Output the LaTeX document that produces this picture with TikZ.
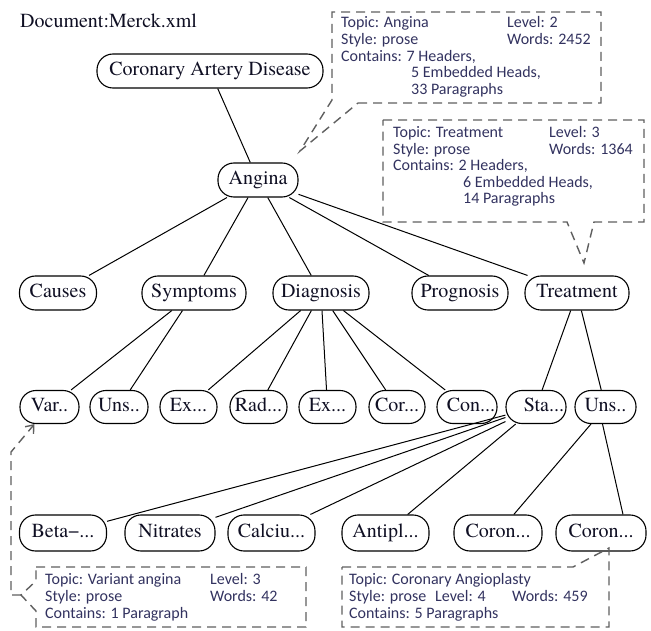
\documentclass[tikz,border=0pt]{standalone}
\usepackage{fontspec}
\newfontfamily\nodefont{texgyretermes}[Extension=.otf, UprightFont=*-regular]
\newfontfamily\notefont{Carlito}
\usetikzlibrary{arrows.meta}
\definecolor{inkc}{RGB}{15,15,35}
\definecolor{notec}{RGB}{50,50,95}
\definecolor{dashc}{RGB}{95,95,95}

\begin{document}
\begin{tikzpicture}[x=1pt,y=-1pt,
  topic/.style={draw=black, line width=1.1pt, rounded corners=16pt,
    minimum height=34pt, inner sep=0pt, text=inkc,
    text height=13.5pt, text depth=4.5pt,
    font=\nodefont\fontsize{20}{22}\selectfont},
  leaf/.style={topic, minimum height=33pt},
  link/.style={line width=1pt, draw=black},
  note/.style={draw=dashc, line width=1.4pt, dash pattern=on 9pt off 6pt},
  notetext/.style={anchor=base west, inner sep=0pt, text=notec,
    font=\notefont\fontsize{16}{17}\selectfont},
]
\useasboundingbox (0,0) rectangle (651,631);

% title
\node[anchor=base west, inner sep=0pt, text=inkc, font=\nodefont\fontsize{20}{22}\selectfont]
  (doctitle) at (20,28) {Document:Merck.xml};

% tree nodes
\node[topic, minimum width=226pt] (cad) at (210,71) {Coronary Artery Disease};
\node[topic, minimum width=80pt] (angina) at (258,180) {Angina};

\node[topic, minimum width=77pt]  (causes)    at (58,293)  {Causes};
\node[topic, minimum width=104pt] (symptoms)  at (194,293) {Symptoms};
\node[topic, minimum width=96pt]  (diagnosis) at (321,293) {Diagnosis};
\node[topic, minimum width=96pt]  (prognosis) at (460,293) {Prognosis};
\node[topic, minimum width=104pt] (treatment) at (577,293) {Treatment};

\node[leaf, minimum width=59pt] (var)  at (49.5,407)  {Var..};
\node[leaf, minimum width=58pt] (unsA) at (119,407)   {Uns..};
\node[leaf, minimum width=57pt] (exA)  at (188.5,407) {Ex...};
\node[leaf, minimum width=57pt] (rad)  at (258.5,407) {Rad...};
\node[leaf, minimum width=57pt] (exB)  at (327.5,407) {Ex...};
\node[leaf, minimum width=56pt] (cor)  at (397,407)   {Cor...};
\node[leaf, minimum width=60pt] (con)  at (467,407)   {\hspace*{8pt}Con...};
\node[leaf, minimum width=60pt] (sta)  at (536,407)   {\hspace*{16pt}Sta...};
\node[leaf, minimum width=61pt] (unsB) at (605.5,407) {Uns..};

\node[topic, minimum height=36pt, minimum width=87pt] (beta)     at (63,533)    {Beta−...};
\node[topic, minimum height=36pt, minimum width=90pt] (nitrates) at (170,533)   {Nitrates};
\node[topic, minimum height=36pt, minimum width=87pt] (calcium)  at (271.5,533) {Calciu...};
\node[topic, minimum height=36pt, minimum width=87pt] (antipl)   at (385.5,533) {Antipl...};
\node[topic, minimum height=36pt, minimum width=88pt] (coronA)   at (498,533)   {Coron...};
\node[topic, minimum height=36pt, minimum width=90pt] (coronB)   at (601,533)   {Coron...};

% tree edges
\draw[link] (cad) -- (angina);
\foreach \c in {causes,symptoms,diagnosis,prognosis,treatment}
  \draw[link] (angina) -- (\c);
\draw[link] (symptoms) -- (var);
\draw[link] (symptoms) -- (unsA);
\foreach \c in {exA,rad,exB,cor,con}
  \draw[link] (diagnosis) -- (\c);
\draw[link] (treatment) -- (sta);
\draw[link] (treatment) -- (unsB);
\foreach \c in {beta,nitrates,calcium,antipl}
  \draw[link] (sta) -- (\c);
\draw[link] (unsB) -- (coronA);
\draw[link] ([xshift=-3pt]unsB.south) -- ([xshift=22pt]coronB.north);

% note on Angina
\draw[note] (358,103) -- (601,103) -- (601,12) -- (332,12) -- (332,100)
  -- (300,151) -- cycle;
\node[notetext] (nAtopic) at (341,28)   {Topic: Angina};
\node[notetext] (nAlevel) at (507,28)   {Level: 2};
\node[notetext] (nAstyle) at (341,44.6) {Style: prose};
\node[notetext] (nAwords) at (507,44.6) {Words: 2452};
\node[notetext] (nAcont)  at (341,61.2) {Contains: 7 Headers,};
\node[notetext] (nAemb)   at (411,77.8) {5 Embedded Heads,};
\node[notetext] (nApara)  at (411,94.4) {33 Paragraphs};

% note on Treatment
\draw[note] (383,120) -- (644,120) -- (644,222) -- (594,222) -- (584,263)
  -- (567,222) -- (383,222) -- cycle;
\node[notetext] (nTtopic) at (393,138)   {Topic: Treatment};
\node[notetext] (nTlevel) at (549,138)   {Level: 3};
\node[notetext] (nTstyle) at (393,154.5) {Style: prose};
\node[notetext] (nTwords) at (549,154.5) {Words: 1364};
\node[notetext] (nTcont)  at (393,171)   {Contains: 2 Headers,};
\node[notetext] (nTemb)   at (463,187.5) {6 Embedded Heads,};
\node[notetext] (nTpara)  at (463,204)   {14 Paragraphs};

% note on Variant angina
\coordinate (vtip) at (21,595);
\coordinate (vbend) at (11,595);
\coordinate (vup) at (11,452);
\draw[note] (36,567) -- (306,567) -- (306,627) -- (36,627) -- (36,611)
  -- (vtip) -- (36,581) -- cycle;
\draw[note, -{Straight Barb[length=7pt,width=11pt]}] (vtip) -- (vbend) -- (vup)
  -- ([xshift=-15pt]var.south);
\node[notetext] (nVtopic) at (45,584)  {Topic: Variant angina};
\node[notetext] (nVlevel) at (210,584) {Level: 3};
\node[notetext] (nVstyle) at (45,601)  {Style: prose};
\node[notetext] (nVwords) at (210,601) {Words: 42};
\node[notetext] (nVcont)  at (45,618)  {Contains: 1 Paragraph};

% note on Coronary Angioplasty
\draw[note] (342,567) -- (573,567) -- (609,548) -- (609,627) -- (342,627) -- cycle;
\node[notetext] (nCtopic) at (349,584) {Topic: Coronary Angioplasty};
\node[notetext] (nCstyle) at (349,601) {Style: prose};
\node[notetext] (nClevel) at (435,601) {Level: 4};
\node[notetext] (nCwords) at (512,601) {Words: 459};
\node[notetext] (nCcont)  at (349,618) {Contains: 5 Paragraphs};
\end{tikzpicture}
\end{document}
